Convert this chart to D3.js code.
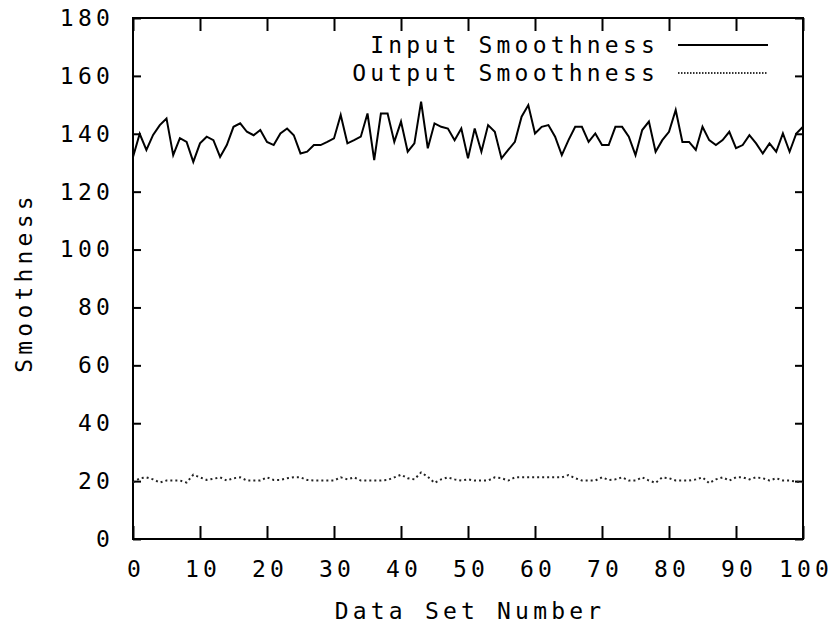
<!DOCTYPE html>
<html>
<head>
<meta charset="utf-8">
<script src="https://cdn.jsdelivr.net/npm/d3@7"></script>
<style>
  body { margin: 0; background: #fff; }
  svg text { font-family: "DejaVu Sans Mono", monospace; font-size: 23px; letter-spacing: 4.2px; fill: #000; }
</style>
</head>
<body>
<svg id="chart" width="836" height="631"></svg>
<script>
// Smoothness per data set
var inputSmoothness = [
  132, 140, 134.4, 139.6, 143, 145.3, 132.6, 138.5, 137.2, 130.3,
  136.7, 139, 137.8, 132, 136.1, 142.4, 143.6, 140.7, 139.5, 141.3,
  137.2, 136.1, 140.1, 141.8, 139.5, 133.2, 133.8, 136.1, 136.1, 137.2,
  138.4, 146.5, 136.7, 137.8, 139, 147, 130.9, 147, 147, 137.2,
  144.2, 133.8, 136.7, 151.1, 135, 143.6, 142.4, 141.8, 137.8, 141.8,
  131.5, 141.8, 133.8, 143, 140.7, 131.5, 134.4, 137.2, 145.9, 149.9,
  140.1, 142.4, 143, 139, 132.6, 137.8, 142.4, 142.4, 137.2, 140.1,
  136.1, 136.1, 142.4, 142.4, 139, 132.6, 141.3, 144.2, 133.8, 137.8,
  140.7, 148.2, 137.2, 137.2, 134.4, 142.4, 137.8, 136.1, 137.8, 140.7,
  135, 136.1, 139.5, 136.7, 133.2, 136.7, 133.8, 140.1, 133.8, 140.1,
  142.4
];
var outputSmoothness = [
  19.5, 21, 21.3, 20.6, 19.5, 20.2, 20.2, 20.2, 19.5, 22.2,
  21.3, 20.4, 20.8, 21.3, 20.2, 21, 21.3, 20.2, 20.2, 20.2,
  21.3, 20.4, 20.4, 21, 21.3, 21.3, 20.4, 20.2, 20.2, 20.2,
  20.2, 21.3, 20.6, 21.3, 20.2, 20.2, 20.2, 20.2, 20.4, 21.3,
  22.2, 21, 20.6, 23, 21.5, 19.4, 20.6, 21.3, 20.6, 20.2,
  20.6, 20.2, 20.2, 20.2, 21.3, 21, 20.2, 21.3, 21.3, 21.3,
  21.3, 21.3, 21.3, 21.3, 21.3, 22.1, 21, 20.2, 20.2, 20.2,
  21.3, 20.4, 20.6, 21.3, 20.2, 20.2, 21.3, 20.2, 19.4, 21.3,
  21, 20.2, 20.2, 20.2, 20.6, 21.3, 19.3, 20.6, 21.3, 20.2,
  21.3, 21.3, 20.6, 21.3, 21, 20.2, 21, 20.2, 20.2, 19.8,
  19.5
];
var xTicks = [0, 10, 20, 30, 40, 50, 60, 70, 80, 90, 100];
var yTicks = [0, 20, 40, 60, 80, 100, 120, 140, 160, 180];
var seriesNames = ["Input Smoothness", "Output Smoothness"];

var dimensions = {
    width: 836,
    height: 631,
    margin: { top: 18, bottom: 92, right: 33, left: 133 }
}

var svg = d3.select("#chart")

var xScale = d3.scaleLinear()
               .domain([0, 100])
               .range([dimensions.margin.left, dimensions.width - dimensions.margin.right])

var yScale = d3.scaleLinear()
               .domain([0, 180])
               .range([dimensions.height - dimensions.margin.bottom, dimensions.margin.top])

var x0 = xScale.range()[0], x1 = xScale.range()[1];
var yb = yScale.range()[0], yt = yScale.range()[1];

// axes: ticks point inward, mirrored on top and right
var xAxis = svg.append("g")
               .attr("transform", "translate(0," + yb + ")")
               .call(d3.axisBottom(xScale).tickValues(xTicks).tickFormat(d3.format("d")).tickSize(-13).tickPadding(22))
xAxis.selectAll("text").attr("dx", 2.5);

svg.append("g")
   .attr("transform", "translate(0," + yt + ")")
   .call(d3.axisTop(xScale).tickValues(xTicks).tickFormat("").tickSize(-13))

var yAxis = svg.append("g")
               .attr("transform", "translate(" + x0 + ",0)")
               .call(d3.axisLeft(yScale).tickValues(yTicks).tickFormat(d3.format("d")).tickSize(-8).tickPadding(19))

svg.append("g")
   .attr("transform", "translate(" + x1 + ",0)")
   .call(d3.axisRight(yScale).tickValues(yTicks).tickFormat("").tickSize(-8))

svg.selectAll(".domain").remove();
svg.selectAll(".tick line").attr("stroke", "#000").attr("stroke-width", 2);
svg.selectAll(".tick text").attr("font-family", null).attr("font-size", null);

svg.append("rect")
   .attr("x", x0).attr("y", yt)
   .attr("width", x1 - x0).attr("height", yb - yt)
   .attr("fill", "none").attr("stroke", "#000").attr("stroke-width", 2);

var line = d3.line()
             .x(function(d, i){ return xScale(i) })
             .y(function(d){ return yScale(d) })

svg.append("path")
   .datum(inputSmoothness)
   .attr("d", line)
   .attr("fill", "none")
   .attr("stroke", "#000")
   .attr("stroke-width", 2)
   .attr("stroke-linejoin", "miter");

svg.append("path")
   .datum(outputSmoothness)
   .attr("d", line)
   .attr("fill", "none")
   .attr("stroke", "#222")
   .attr("stroke-width", 2)
   .attr("stroke-dasharray", "2,3");

// legend
var legendY = [45, 73];
seriesNames.forEach(function(name, i){
    svg.append("text")
       .attr("x", 659)
       .attr("y", legendY[i] + 8)
       .attr("text-anchor", "end")
       .text(name);
    svg.append("line")
       .attr("x1", 678).attr("x2", 768)
       .attr("y1", legendY[i]).attr("y2", legendY[i])
       .attr("stroke", i === 0 ? "#000" : "#333")
       .attr("stroke-width", 2)
       .attr("stroke-dasharray", i === 0 ? null : "1.5,1.5");
});

// axis titles
svg.append("text")
   .attr("x", (x0 + x1) / 2 + 2)
   .attr("y", 619)
   .attr("text-anchor", "middle")
   .text("Data Set Number");

svg.append("text")
   .attr("transform", "translate(32," + ((yt + yb) / 2 + 4) + ") rotate(-90)")
   .attr("text-anchor", "middle")
   .text("Smoothness");
</script>
</body>
</html>
